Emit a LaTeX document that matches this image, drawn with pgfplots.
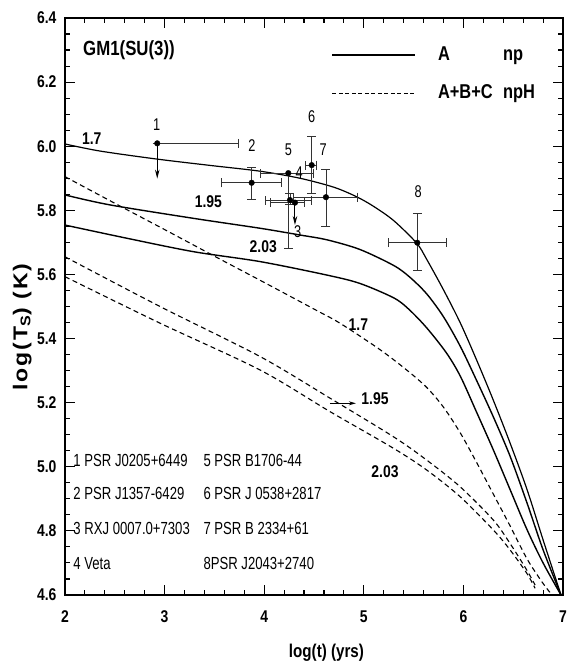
\documentclass[border=0pt]{standalone}
\usepackage{fontspec}
\setmainfont{Liberation Sans}[FakeStretch=0.82]
\newfontfamily\narrowfont{Liberation Sans}[FakeStretch=0.75]
\newfontfamily\ylabfont{Liberation Sans}[FakeStretch=1.15, LetterSpace=10]
\usepackage{pgfplots}
\pgfplotsset{compat=1.18}
\usetikzlibrary{arrows.meta}
\newcommand{\tfont}{\fontsize{17bp}{19bp}\selectfont\bfseries}
\newcommand{\nfont}{\narrowfont\fontsize{17bp}{18bp}\selectfont}
\newcommand{\lfont}{\narrowfont\fontsize{17.5bp}{19bp}\selectfont}
\newcommand{\cfont}{\fontsize{17bp}{19bp}\selectfont\bfseries}
\begin{document}
\begin{tikzpicture}
\begin{axis}[
  at={(0,0)}, anchor=south west,
  scale only axis, width=498bp, height=577bp,
  xmin=2, xmax=7, ymin=4.6, ymax=6.4,
  xtick={2,3,4,5,6,7},
  ytick={4.6,4.8,5.0,5.2,5.4,5.6,5.8,6.0,6.2,6.4},
  minor x tick num=4, minor y tick num=3,
  tick align=inside,
  major tick length=10bp, minor tick length=5bp,
  every tick/.style={black, line width=1.1bp},
  axis line style={line width=1.8bp},
  /pgf/number format/assume math mode=true,
  xticklabel style={font=\tfont, yshift=-12bp},
  yticklabel style={font=\tfont, xshift=-5bp, /pgf/number format/.cd, fixed, fixed zerofill, precision=1},
  xlabel={log(t) (yrs)},
  ylabel={log(T\textsubscript{S}) (K)},
  every axis x label/.style={at={(axis description cs:0.525,-0.1005)}, anchor=center, font=\fontsize{18.5bp}{20bp}\selectfont\bfseries},
  every axis y label/.style={at={(axis description cs:-0.086,0.464)}, anchor=center, rotate=90, font=\ylabfont\fontsize{20bp}{22bp}\selectfont\bfseries},
  legend style={at={(axis cs:4.675,6.3127)}, anchor=north west, draw=none, fill=none, inner sep=0pt, row sep=20bp, column sep=0pt, font=\fontsize{20bp}{22bp}\selectfont\bfseries, nodes={inner sep=0pt, text height=14bp, text depth=4bp}},
  legend image code/.code={\draw[#1] (0bp,0bp) -- (83bp,0bp); \path (105bp,0bp);},
  legend cell align=left,
]
\addlegendimage{black, line width=1.4bp}
\addlegendentry{\makebox[65bp][l]{A}np}
\addlegendimage{black, line width=1.1bp, dash pattern=on 4bp off 2.5bp}
\addlegendentry{\makebox[65bp][l]{A+B+C}npH}

% solid curves (A, np)
\addplot[black, line width=1.2bp, smooth, forget plot] table {
x y
2.00 6.007
2.35 5.985
2.92 5.960
3.46 5.940
3.96 5.922
4.36 5.900
4.70 5.872
4.93 5.842
5.10 5.812
5.30 5.768
5.53 5.698
5.63 5.648
5.80 5.552
5.97 5.448
6.13 5.335
6.30 5.208
6.47 5.073
6.64 4.928
6.80 4.772
6.98 4.600
};
\addplot[black, line width=1.4bp, smooth, forget plot] table {
x y
2.00 5.848
2.45 5.817
3.29 5.775
3.96 5.744
4.36 5.723
4.63 5.708
4.96 5.678
5.30 5.628
5.46 5.592
5.63 5.540
5.80 5.468
5.97 5.375
6.13 5.271
6.30 5.156
6.47 5.032
6.64 4.886
6.80 4.741
6.98 4.600
};
\addplot[black, line width=1.4bp, smooth, forget plot] table {
x y
2.00 5.754
2.62 5.713
3.29 5.671
3.96 5.640
4.63 5.598
4.96 5.572
5.30 5.527
5.45 5.492
5.63 5.434
5.83 5.355
5.97 5.282
6.13 5.172
6.30 5.053
6.47 4.928
6.64 4.803
6.80 4.700
6.98 4.600
};
% dashed curves (A+B+C, npH)
\addplot[black, line width=1.1bp, dash pattern=on 5bp off 3.5bp, smooth, forget plot] table {
x y
2.00 5.905
2.50 5.822
3.00 5.740
3.50 5.657
4.00 5.575
4.50 5.492
4.76 5.448
5.16 5.366
5.43 5.302
5.63 5.248
5.80 5.186
5.97 5.105
6.13 5.015
6.30 4.915
6.47 4.815
6.64 4.712
6.80 4.636
6.89 4.600
};
\addplot[black, line width=1.1bp, dash pattern=on 5bp off 3.5bp, smooth, forget plot] table {
x y
2.00 5.655
2.954 5.500
3.958 5.344
4.661 5.214
5.296 5.094
5.631 5.021
5.966 4.938
6.30 4.834
6.468 4.761
6.636 4.678
6.72 4.631
};
\addplot[black, line width=1.1bp, dash pattern=on 5bp off 3.5bp, smooth, forget plot] table {
x y
2.00 5.593
2.954 5.448
3.958 5.302
4.661 5.172
5.296 5.058
5.631 4.990
5.966 4.907
6.30 4.803
6.468 4.741
6.636 4.668
6.72 4.621
};

% observed pulsars with full error bars: 2,4,5,6,7,8
\addplot[only marks, mark=*, mark size=2.8bp, black, forget plot,
  error bars/.cd, x dir=both, x explicit, y dir=both, y explicit,
  error bar style={black!80, line width=0.9bp},
  error mark options={black!80, line width=0.9bp, mark size=4.5bp, rotate=90}]
  table[x=x, y=y, x error minus=exm, x error plus=exp, y error minus=eym, y error plus=eyp] {
x y exm exp eym eyp
3.874 5.886 0.301 0.295 0.051 0.047
4.259 5.832 0.244 0.218 0.015 0.021
4.242 5.916 0.284 0.251 0.234 0.000
4.477 5.941 0.067 0.050 0.088 0.089
4.620 5.841 0.330 0.315 0.092 0.087
5.537 5.699 0.291 0.295 0.088 0.090
};
% upper limits: 1 and 3
\addplot[only marks, mark=*, mark size=2.8bp, black, forget plot,
  error bars/.cd, x dir=both, x explicit,
  error bar style={black!80, line width=0.9bp},
  error mark options={black!80, line width=0.9bp, mark size=4.5bp, rotate=90}]
  table[x=x, y=y, x error minus=exm, x error plus=exp] {
x y exm exp
2.926 6.009 0.000 0.811
4.309 5.824 0.250 0.100
};
\addplot[black, line width=1bp, forget plot, quiver={u=\thisrow{u}, v=\thisrow{v}}, -{Stealth[length=9bp, width=4.5bp]}]
  table[x=x, y=y] {
x y u v
2.926 6.009 0 -0.110
4.309 5.824 0 -0.070
};

% text
\node[anchor=west, inner sep=0pt, font=\fontsize{20.5bp}{22bp}\selectfont\bfseries] at (axis cs:2.181,6.30) {GM1(SU(3))};

\node[font=\nfont] at (axis cs:2.920,6.066) {1};
\node[font=\nfont] at (axis cs:3.877,6.001) {2};
\node[font=\nfont] at (axis cs:4.336,5.733) {3};
\node[font=\nfont] at (axis cs:4.350,5.917) {4};
\node[font=\nfont] at (axis cs:4.242,5.988) {5};
\node[font=\nfont] at (axis cs:4.477,6.092) {6};
\node[font=\nfont] at (axis cs:4.593,5.988) {7};
\node[font=\nfont] at (axis cs:5.547,5.858) {8};

\node[font=\cfont] at (axis cs:2.268,6.025) {1.7};
\node[font=\cfont] at (axis cs:3.439,5.827) {1.95};
\node[font=\cfont] at (axis cs:3.991,5.687) {2.03};
\node[font=\cfont] at (axis cs:4.945,5.442) {1.7};
\node[font=\cfont] at (axis cs:5.112,5.214) {1.95};
\node[font=\cfont] at (axis cs:5.213,4.985) {2.03};
\draw[black, line width=1bp, -{Stealth[length=7bp, width=4bp]}] (axis cs:4.66,5.198) -- (axis cs:4.92,5.198);

\node[anchor=west, inner sep=0pt, font=\lfont] at (axis cs:2.083,5.021) {1 PSR J0205+6449};
\node[anchor=west, inner sep=0pt, font=\lfont] at (axis cs:2.083,4.917) {2 PSR J1357-6429};
\node[anchor=west, inner sep=0pt, font=\lfont] at (axis cs:2.083,4.808) {3 RXJ 0007.0+7303};
\node[anchor=west, inner sep=0pt, font=\lfont] at (axis cs:2.083,4.699) {4 Veta};
\node[anchor=west, inner sep=0pt, font=\lfont] at (axis cs:3.389,5.021) {5 PSR B1706-44};
\node[anchor=west, inner sep=0pt, font=\lfont] at (axis cs:3.389,4.917) {6 PSR J 0538+2817};
\node[anchor=west, inner sep=0pt, font=\lfont] at (axis cs:3.389,4.808) {7 PSR B 2334+61};
\node[anchor=west, inner sep=0pt, font=\lfont] at (axis cs:3.389,4.699) {8PSR J2043+2740};
\end{axis}
\pgfresetboundingbox
\path (-65bp,-73bp) rectangle (511bp,595bp);
\end{tikzpicture}
\end{document}
